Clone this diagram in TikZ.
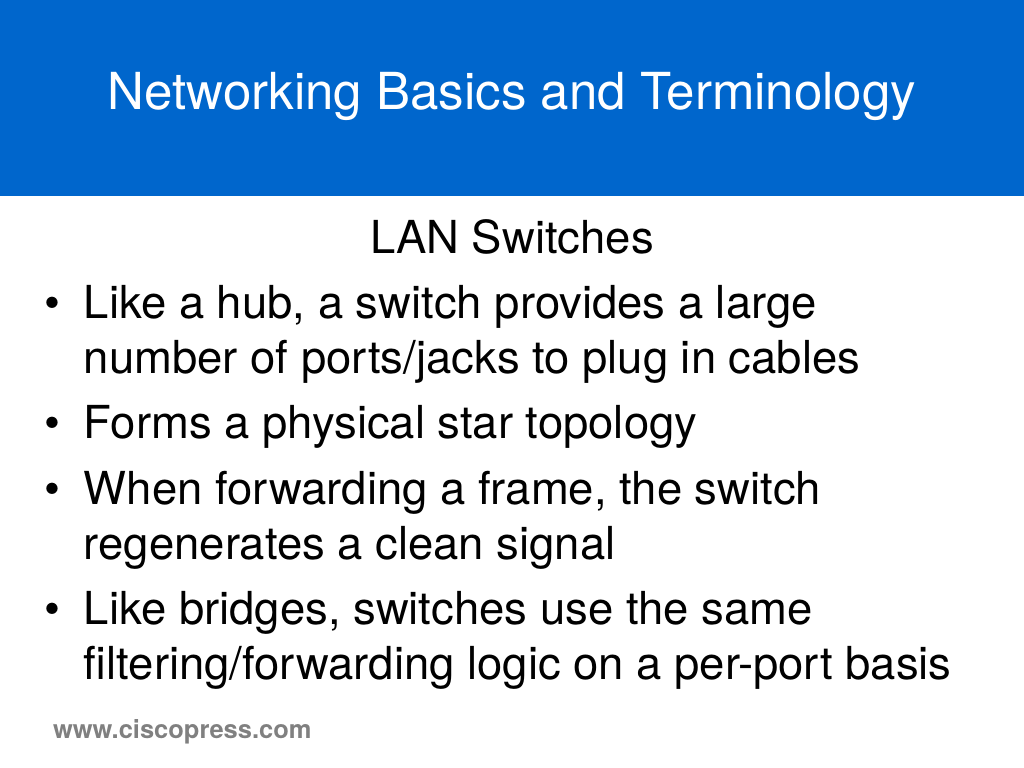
\documentclass[tikz,border=0pt]{standalone}
\usepackage{fontspec}
\setmainfont{TeX Gyre Heros}
\definecolor{banner}{RGB}{0,102,204}
\definecolor{footgray}{RGB}{128,128,128}
\begin{document}
\begin{tikzpicture}
      \tikzstyle{every node}=[inner sep=0pt,outer sep=0pt];
      \tikzset{line/.style={anchor=base west,font=\fontsize{12.93pt}{15pt}\selectfont},
               dot/.style={anchor=base west,font=\fontsize{12.93pt}{15pt}\selectfont}};
        \path[use as bounding box] (0,0) rectangle (10.24,7.68);
        \path[fill=white] (0,0) rectangle (10.24,7.68);
        \path[fill=banner] (0,5.72) rectangle (10.24,7.68);

        \path (5.12,6.585) node[anchor=base,text=white,font=\fontsize{14.52pt}{17pt}\selectfont] (title) {Networking Basics and Terminology};
        \path (5.12,5.14) node[anchor=base,font=\fontsize{12.93pt}{15pt}\selectfont] (head) {LAN Switches};

        \path (0.45,4.49) node[dot] (b1) {•};
        \path (0.84,4.49) node[line] (l1) {Like a hub, a switch provides a large};
        \path (0.84,3.94) node[line] (l2) {number of ports/jacks to plug in cables};
        \path (0.45,3.29) node[dot] (b2) {•};
        \path (0.84,3.29) node[line] (l3) {Forms a physical star topology};
        \path (0.45,2.63) node[dot] (b3) {•};
        \path (0.84,2.63) node[line] (l4) {When forwarding a frame, the switch};
        \path (0.84,2.08) node[line] (l5) {regenerates a clean signal};
        \path (0.45,1.43) node[dot] (b4) {•};
        \path (0.84,1.43) node[line] (l6) {Like bridges, switches use the same};
        \path (0.84,0.88) node[line] (l7) {filtering/forwarding logic on a per-port basis};

        \path (0.53,0.295) node[anchor=base west,text=footgray,font=\fontsize{7.25pt}{9pt}\selectfont\bfseries] (foot) {www.ciscopress.com};
    \end{tikzpicture}
\end{document}
